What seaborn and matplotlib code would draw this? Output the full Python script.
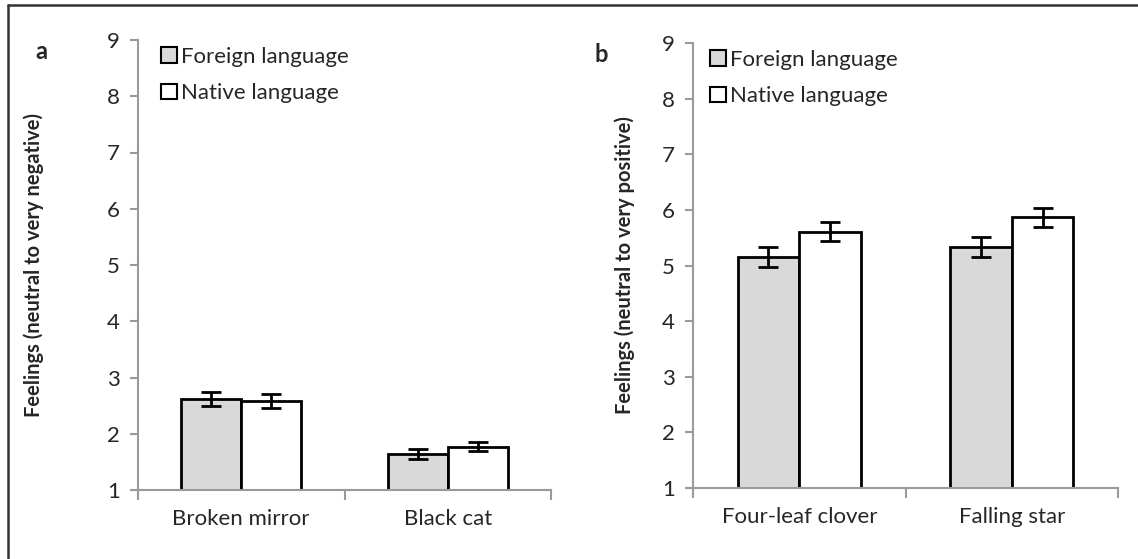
import numpy as np
import pandas as pd
import seaborn as sns
import matplotlib.pyplot as plt
from matplotlib.patches import Patch
from matplotlib.lines import Line2D

# Values
conditions = ["Foreign language", "Native language"]
neg_items = ["Broken mirror", "Black cat"]
neg_foreign = [2.62, 1.64]
neg_native = [2.58, 1.77]
neg_foreign_err = [0.13, 0.09]
neg_native_err = [0.13, 0.085]

pos_items = ["Four-leaf clover", "Falling star"]
pos_foreign = [5.16, 5.34]
pos_native = [5.61, 5.87]
pos_foreign_err = [0.18, 0.18]
pos_native_err = [0.17, 0.17]

y_ticks = [1, 2, 3, 4, 5, 6, 7, 8, 9]

sns.set_style("white")
plt.rcParams['font.family'] = ['Lato', 'DejaVu Sans']

fills = {"Foreign language": "#d9d9d9", "Native language": "#ffffff"}
axis_grey = "#9a9a9a"

fig = plt.figure(figsize=(11.38, 5.59), dpi=100)
ax_a = fig.add_axes([138 / 1138, 1 - 490 / 559, 413 / 1138, 450 / 559])
ax_b = fig.add_axes([693 / 1138, 1 - 488 / 559, 425 / 1138, 445 / 559])


def draw_panel(ax, items, foreign, native, foreign_err, native_err, ylabel,
               letter, label_x, letter_x, legend_x):
    df = pd.DataFrame({
        "item": items * 2,
        "condition": [conditions[0]] * len(items) + [conditions[1]] * len(items),
        "value": list(foreign) + list(native),
    })
    errs = list(foreign_err) + list(native_err)
    sns.barplot(data=df, x="item", y="value", hue="condition", order=items,
                hue_order=conditions, palette=fills, width=0.58,
                edgecolor="black", linewidth=2, errorbar=None, legend=False,
                ax=ax)
    # error bars at bar centres (patches come out hue by hue)
    for bar, val, err in zip(ax.patches, df["value"], errs):
        cx = bar.get_x() + bar.get_width() / 2
        ax.errorbar(cx, val, yerr=err, color="black", lw=2, capsize=7,
                    capthick=2, zorder=5)

    ax.set_ylim(1, 9)
    ax.set_xlim(-0.5, len(items) - 0.5)
    ax.set_yticks(y_ticks)
    ax.tick_params(axis="y", labelsize=16, length=6, width=1.5,
                   color=axis_grey, direction="out", left=True, pad=7)
    ax.set_xticks(range(len(items)))
    ax.set_xticklabels(items, fontsize=16)
    ax.tick_params(axis="x", length=0, pad=14)
    ax.set_xticks(np.arange(-0.5, len(items), 1.0), minor=True)
    ax.tick_params(axis="x", which="minor", length=7, width=1.5,
                   color=axis_grey, direction="out", bottom=True)
    for side in ["top", "right"]:
        ax.spines[side].set_visible(False)
    for side in ["left", "bottom"]:
        ax.spines[side].set_color(axis_grey)
        ax.spines[side].set_linewidth(1.5)
    ax.set_xlabel("")
    ax.set_ylabel(ylabel, fontsize=14.5, fontweight="bold")
    ax.yaxis.set_label_coords(label_x, 0.5)

    handles = [Patch(facecolor=fills[c], edgecolor="black", linewidth=1.5)
               for c in conditions]
    ax.legend(handles, conditions, loc="upper left",
              bbox_to_anchor=(legend_x, 1.005), frameon=False, fontsize=16,
              handlelength=0.7, handleheight=0.7, handletextpad=0.2,
              labelspacing=0.75, borderaxespad=0)
    ax.text(letter_x, 0.975, letter, transform=ax.transAxes, fontsize=17,
            fontweight="bold", ha="center", va="center")


draw_panel(ax_a, neg_items, neg_foreign, neg_native, neg_foreign_err,
           neg_native_err, "Feelings (neutral to very negative)", "a",
           -0.228, -0.235, 0.035)
draw_panel(ax_b, pos_items, pos_foreign, pos_native, pos_foreign_err,
           pos_native_err, "Feelings (neutral to very positive)", "b",
           -0.136, -0.215, 0.02)

# outer frame (only top and left edges fall inside the image)
fig.add_artist(Line2D([8 / 1138, 8 / 1138], [0, 1 - 5 / 559], color="#333333",
                      lw=1.8, transform=fig.transFigure))
fig.add_artist(Line2D([8 / 1138, 1], [1 - 5 / 559, 1 - 5 / 559], color="#333333",
                      lw=1.8, transform=fig.transFigure))

fig.savefig("out.png", dpi=100)
